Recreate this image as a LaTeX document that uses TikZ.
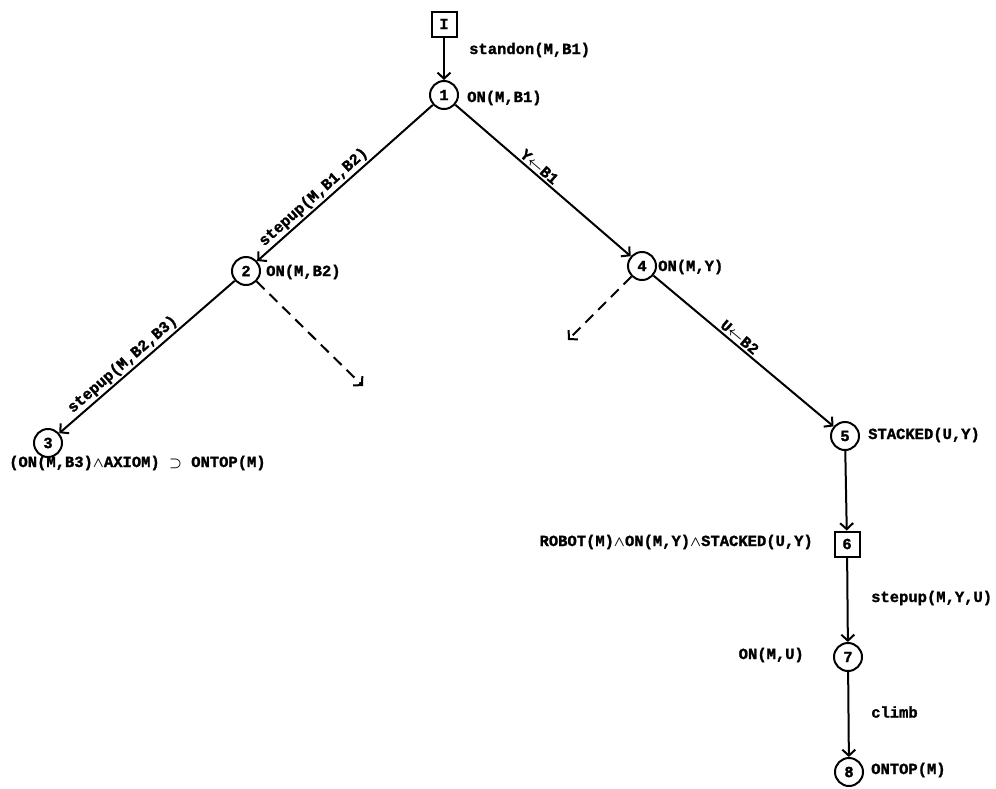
\documentclass[tikz,border=0pt]{standalone}
\usepackage{amsmath}
\usepackage{fontspec}
\setmonofont{Liberation Mono}[BoldFeatures={FakeBold=1.5}]
\usetikzlibrary{arrows.meta}
\tikzset{
  every node/.style={font=\ttfamily\bfseries\fontsize{15.5}{17}\selectfont, inner sep=1pt},
  state/.style={circle, draw, line width=2pt, minimum size=28pt, inner sep=0pt},
  boxstate/.style={rectangle, draw, line width=2pt, minimum size=25pt, inner sep=0pt},
  arc/.style={line width=2pt, -{Straight Barb[length=6pt,width=13pt,line width=2pt]}},
  darc/.style={arc, dash pattern=on 11pt off 7pt},
  lab/.style={anchor=west},
  elab/.style={sloped, above, inner sep=2pt}
}
\begin{document}
\begin{tikzpicture}[x=1pt,y=-1pt]
\useasboundingbox (0,0) rectangle (996,788);
% nodes
\node[boxstate] (I) at (444,24) {I};
\node[state] (n1) at (444,95) {1};
\node[state] (n2) at (246,271) {2};
\node[state] (n4) at (642,266) {4};
\node[state] (n3) at (48,443) {3};
\node[state] (n5) at (845,436) {5};
\node[boxstate] (n6) at (847,544) {6};
\node[state] (n7) at (848,657) {7};
\node[state] (n8) at (849,772) {8};
\coordinate (d2) at (363,386);
\coordinate (d4) at (568,340);
% labels
\node[lab] (lstand) at (468,50) {standon(M,B1)};
\node[lab] (l1) at (466,98) {ON(M,B1)};
\node[lab] (l2) at (265,272) {ON(M,B2)};
\node[lab] (l4) at (657,267) {ON(M,Y)};
\node[lab] (l5) at (867,435) {STACKED(U,Y)};
\node[anchor=east] (l6) at (814,542) {ROBOT(M)$\boldsymbol{\wedge}$ON(M,Y)$\boldsymbol{\wedge}$STACKED(U,Y)};
\node[lab] (lsu) at (870,598) {stepup(M,Y,U)};
\node[anchor=east] (l7) at (805,655) {ON(M,U)};
\node[lab] (lcl) at (870,712) {climb};
\node[lab] (l8) at (870,770) {ONTOP(M)};
\node[anchor=west] (l3) at (8,463) {(ON(M,B3)$\boldsymbol{\wedge}$AXIOM) $\boldsymbol{\supset}$ ONTOP(M)};
% connectors
\draw[arc] (I) -- (n1);
\draw[arc] (n1) -- node[elab, pos=0.64] {stepup(M,B1,B2)} (n2);
\draw[arc] (n1) -- node[elab, pos=0.45] {Y$\boldsymbol{\leftarrow}$B1} (n4);
\draw[arc] (n2) -- node[elab, pos=0.6] {stepup(M,B2,B3)} (n3);
\draw[arc] (n4) -- node[elab, pos=0.45] {U$\boldsymbol{\leftarrow}$B2} (n5);
\draw[arc] (n5) -- (n6);
\draw[arc] (n6) -- (n7);
\draw[arc] (n7) -- (n8);
\draw[darc] (n2) -- (d2);
\draw[darc] (n4) -- (d4);
\end{tikzpicture}
\end{document}
